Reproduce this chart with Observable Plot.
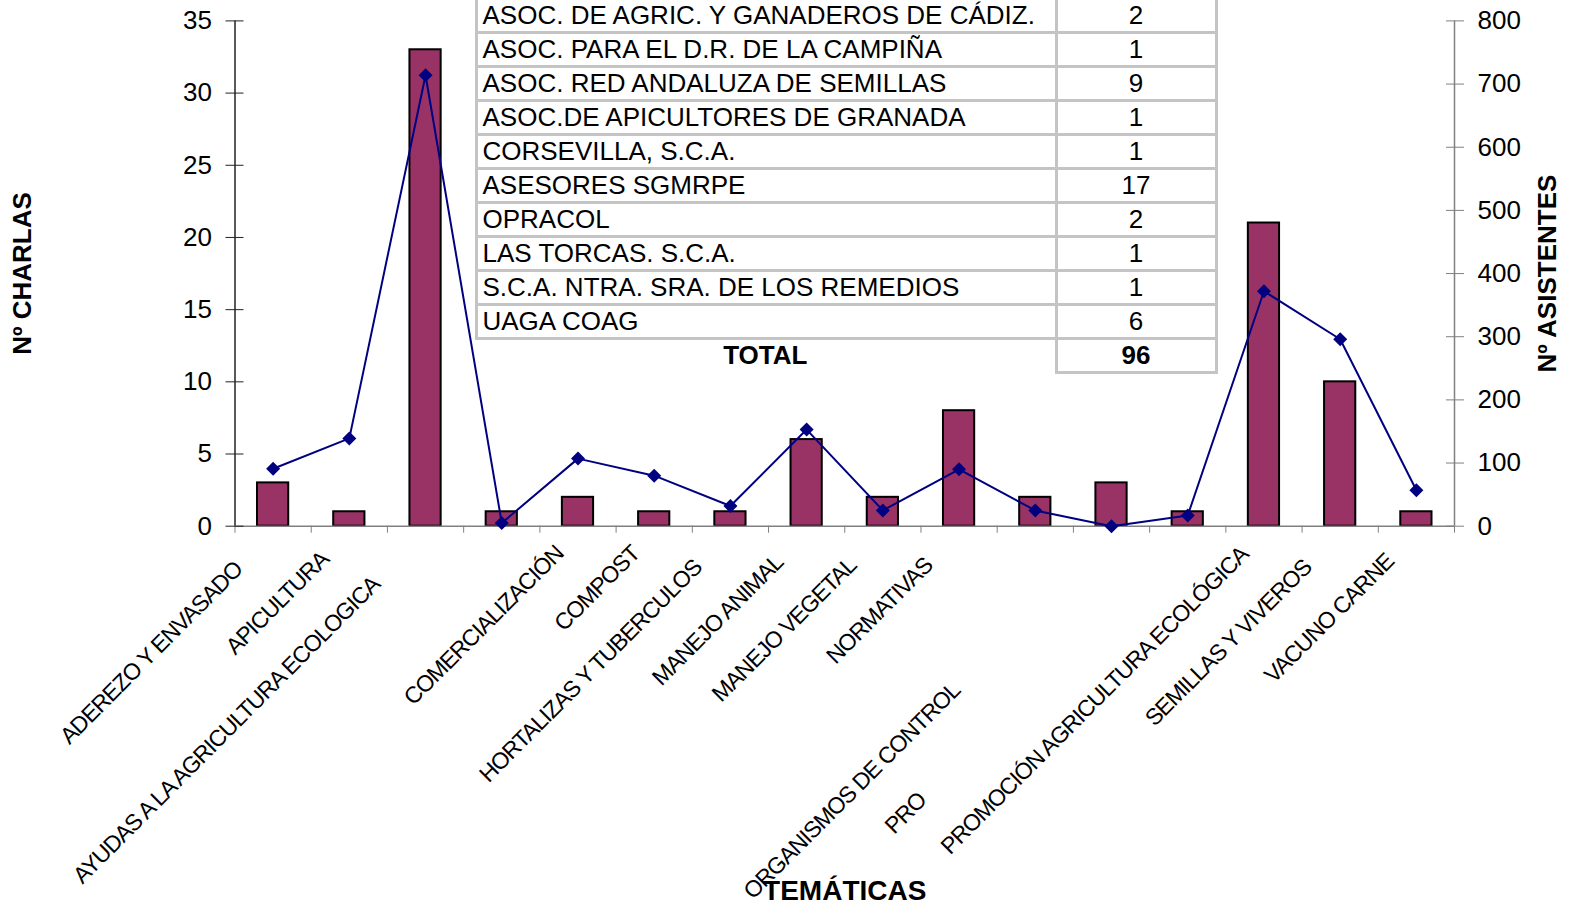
<!DOCTYPE html>
<html>
<head>
<meta charset="utf-8">
<script src="https://cdn.jsdelivr.net/npm/d3@7"></script>
<script src="https://cdn.jsdelivr.net/npm/@observablehq/plot@0.6"></script>
<style>
  html, body { margin: 0; padding: 0; background: #fff; }
  #wrap { position: relative; width: 1570px; height: 907px; overflow: hidden; background: #fff; }
  #tbl { position: absolute; left: 474.5px; top: -3.5px; border-collapse: collapse; background: transparent;
         font: 26px "Liberation Sans", Arial, sans-serif; color: #000; }
  #tbl td { border: 3px solid #c4c4c4; height: 31px; line-height: 31px; padding: 0 0 0 5px; white-space: nowrap; background: #fff; }
  #tbl td.e { width: 572px; }
  #tbl td.n { width: 157px; padding: 0; text-align: center; }
  #tbl tr.tot td { font-weight: bold; }
  #tbl tr.tot td.e { text-align: center; border-left: none; border-bottom: none; padding: 0; background: transparent; }
  g[font-size="23"] text { letter-spacing: -1px; }
</style>
</head>
<body>
<div id="wrap"></div>
<script>
// ---- DATA ----
const tematicas = [
  "ADEREZO Y ENVASADO", "APICULTURA", "AYUDAS A LA AGRICULTURA ECOLOGICA", "",
  "COMERCIALIZACIÓN", "COMPOST", "HORTALIZAS Y TUBERCULOS", "MANEJO ANIMAL",
  "MANEJO VEGETAL", "NORMATIVAS", "", "ORGANISMOS DE CONTROL",
  "PRO", "PROMOCIÓN AGRICULTURA ECOLÓGICA", "SEMILLAS Y VIVEROS", "VACUNO CARNE"
];
const charlas    = [3, 1, 33, 1, 2, 1, 1, 6, 2, 8, 2, 3, 1, 21, 10, 1];
const asistentes = [91, 139, 714, 5, 107, 80, 32, 153, 25, 90, 25, 0, 17, 372, 296, 57];
const charlasTicks = [0, 5, 10, 15, 20, 25, 30, 35];
const asistentesTicks = [0, 100, 200, 300, 400, 500, 600, 700, 800];
const entidades = [
  "ASOC. DE AGRIC. Y GANADEROS DE CÁDIZ.", "ASOC. PARA EL D.R. DE LA CAMPIÑA",
  "ASOC. RED ANDALUZA DE SEMILLAS", "ASOC.DE APICULTORES DE GRANADA",
  "CORSEVILLA, S.C.A.", "ASESORES SGMRPE", "OPRACOL", "LAS TORCAS. S.C.A.",
  "S.C.A. NTRA. SRA. DE LOS REMEDIOS", "UAGA COAG"
];
const charlasEntidad = [2, 1, 9, 1, 1, 17, 2, 1, 1, 6];
const totalTexto = "TOTAL";
const totalCharlas = 96;

// ---- LAYOUT (label shift along the 45° direction, px) ----
const labelShift = [37, 27, 52, 0, 21, 21, 35, 30, 33, 33, 0, 158, 268, 22, 35, 29];
const labelPerp = 2.5;

const yMaxL = 35, yMaxR = 800;
const idx = d3.range(tematicas.length);
const toL = v => v * yMaxL / yMaxR;
const font = '"Liberation Sans", Arial, sans-serif';

const labelMarks = idx.filter(i => tematicas[i] !== "").map(i =>
  Plot.text([i], {
    x: d => d + 0.5, y: 0, text: d => tematicas[d],
    rotate: -45, textAnchor: "end", lineAnchor: "middle",
    dx: -labelShift[i] + labelPerp, dy: labelShift[i] + labelPerp,
    fontSize: 23, fill: "#000"
  })
);

const chart = Plot.plot({
  width: 1570,
  height: 907,
  marginLeft: 234.5,
  marginRight: 116,
  marginTop: 20.4,
  marginBottom: 381.3,
  style: { fontFamily: font, fontSize: "26px", color: "#000", background: "#fff", overflow: "visible" },
  x: { type: "linear", domain: [0, tematicas.length] },
  y: { domain: [0, yMaxL] },
  marks: [
    Plot.rectY(idx, {
      x1: i => i, x2: i => i + 1, y: i => charlas[i],
      insetLeft: 22.5, insetRight: 22.5,
      fill: "#993366", stroke: "#000", strokeWidth: 2
    }),
    Plot.ruleY([0], { stroke: "#808080", strokeWidth: 1.5 }),
    Plot.ruleX([0], { stroke: "#222", strokeWidth: 1.5 }),
    Plot.ruleX([tematicas.length], { stroke: "#808080", strokeWidth: 1.5 }),
    Plot.axisX({ ticks: d3.range(tematicas.length + 1), tickSize: 7, tickFormat: () => "", label: null, stroke: "#808080" }),
    Plot.axisY({ ticks: charlasTicks, anchor: "left", tickSize: 18, insetLeft: 9, tickPadding: 14,
                 fontSize: 26, label: null, stroke: "#222" }),
    Plot.axisY(asistentesTicks.map(toL), { anchor: "right", tickSize: 18, insetRight: 9, tickPadding: 14,
                 fontSize: 26, label: null, stroke: "#808080",
                 tickFormat: v => String(Math.round(v * yMaxR / yMaxL)) }),
    Plot.line(idx, { x: i => i + 0.5, y: i => toL(asistentes[i]), stroke: "#000080", strokeWidth: 2 }),
    Plot.dot(idx, { x: i => i + 0.5, y: i => toL(asistentes[i]), symbol: "diamond2", r: 6.3, fill: "#000080" }),
    ...labelMarks,
    Plot.text(["Nº CHARLAS"], { frameAnchor: "left", dx: -212.5, rotate: -90, textAnchor: "middle", lineAnchor: "middle",
                                fontSize: 26, fontWeight: "bold", text: d => d }),
    Plot.text(["Nº ASISTENTES"], { frameAnchor: "right", dx: 93, rotate: -90, textAnchor: "middle", lineAnchor: "middle",
                                   fontSize: 26, fontWeight: "bold", text: d => d }),
    Plot.text(["TEMÁTICAS"], { frameAnchor: "bottom", dy: 365, textAnchor: "middle", lineAnchor: "middle",
                               fontSize: 28, fontWeight: "bold", text: d => d })
  ]
});

// tighten letter spacing of the category labels
d3.select(chart).selectAll('g[font-size="23"] text').attr("letter-spacing", "-1px");

const wrap = document.getElementById("wrap");
wrap.appendChild(chart);

// table overlay
const table = document.createElement("table");
table.id = "tbl";
entidades.forEach((e, k) => {
  const tr = document.createElement("tr");
  const td1 = document.createElement("td"); td1.className = "e"; td1.textContent = e;
  const td2 = document.createElement("td"); td2.className = "n"; td2.textContent = charlasEntidad[k];
  tr.append(td1, td2); table.appendChild(tr);
});
const trT = document.createElement("tr"); trT.className = "tot";
const tT1 = document.createElement("td"); tT1.className = "e"; tT1.textContent = totalTexto;
const tT2 = document.createElement("td"); tT2.className = "n"; tT2.textContent = totalCharlas;
trT.append(tT1, tT2); table.appendChild(trT);
wrap.appendChild(table);
</script>
</body>
</html>
